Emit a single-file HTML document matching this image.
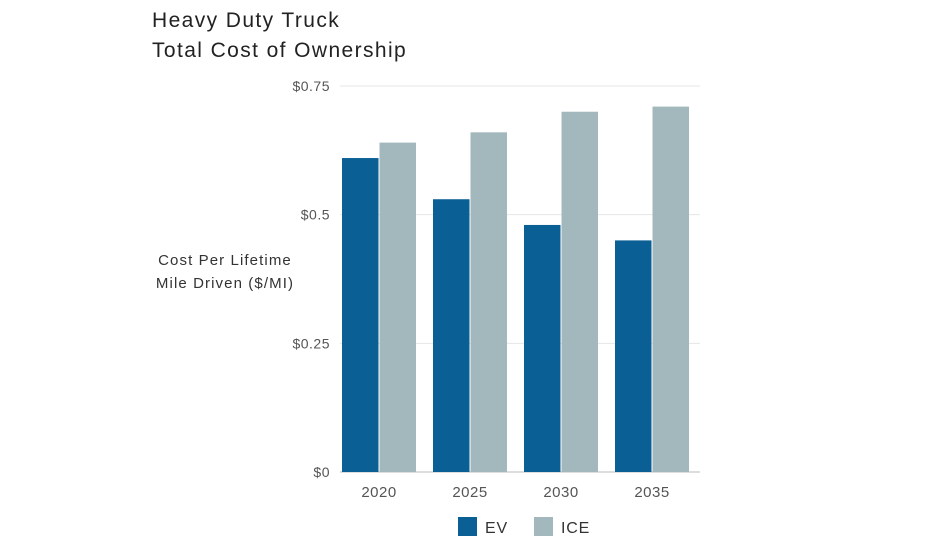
<!DOCTYPE html>
<html><head><meta charset="utf-8"><style>
body{margin:0;background:#fff;width:933px;height:550px;overflow:hidden;font-family:"Liberation Sans",sans-serif}
</style></head><body>
<svg width="933" height="550" id="c">
<text x="152" y="27" font-size="21" letter-spacing="1.4" fill="#222">Heavy Duty Truck</text>
<text x="152" y="57" font-size="21" letter-spacing="1.4" fill="#222">Total Cost of Ownership</text>
<text x="225" y="265" font-size="15" letter-spacing="1.1" fill="#333" text-anchor="middle">Cost Per Lifetime</text>
<text x="225" y="288" font-size="15" letter-spacing="1.1" fill="#333" text-anchor="middle">Mile Driven ($/MI)</text>
<g id="grid"></g><g id="bars"></g><g id="xl"></g>
<rect x="458" y="517" width="19" height="19" fill="#0a5f94"/>
<text x="485" y="533" font-size="16" letter-spacing="0.8" fill="#333">EV</text>
<rect x="534" y="517" width="19" height="19" fill="#a3b8bc"/>
<text x="561" y="533" font-size="16" letter-spacing="0.8" fill="#333">ICE</text>
</svg>
<script>
const categories=["2020","2025","2030","2035"];
const evValues=[0.61,0.53,0.48,0.45];
const iceValues=[0.64,0.66,0.70,0.71];
const yTicks=[0,0.25,0.5,0.75];
const yTickLabels=["$0","$0.25","$0.5","$0.75"];
const NS="http://www.w3.org/2000/svg";
const y0=472,yTop=86,x0=333.5,bw=91;
const y=v=>y0-(v/0.75)*(y0-yTop);
const xc=i=>x0+bw*(i+0.5);
function mk(t,a,p){const e=document.createElementNS(NS,t);for(const k in a)e.setAttribute(k,a[k]);p.appendChild(e);return e;}
const g=document.getElementById('grid');
yTicks.forEach((v,i)=>{
 const l=mk('line',{x1:340,x2:700,y1:y(v),y2:y(v),stroke:i==0?'#bbb':'#e6e6e6','stroke-width':1},g);
 
 
 const t=mk('text',{x:330,y:y(v)+5,'font-size':14,'letter-spacing':0.5,fill:'#555','text-anchor':'end'},g);
 t.textContent=yTickLabels[i];
 
 
});
const b=document.getElementById('bars'),xl=document.getElementById('xl');
categories.forEach((c,i)=>{
 const e=mk('rect',{x:xc(i)-37,y:y(evValues[i]),width:36.5,height:y0-y(evValues[i]),fill:'#0a5f94'},b);
 
 
 const r=mk('rect',{x:xc(i)+0.5,y:y(iceValues[i]),width:36.5,height:y0-y(iceValues[i]),fill:'#a3b8bc'},b);
 
 
 const t=mk('text',{x:xc(i),y:497,'font-size':15,'letter-spacing':0.5,fill:'#555','text-anchor':'middle'},xl);
 t.textContent=c;
 
 
});
</script>
</body></html>
